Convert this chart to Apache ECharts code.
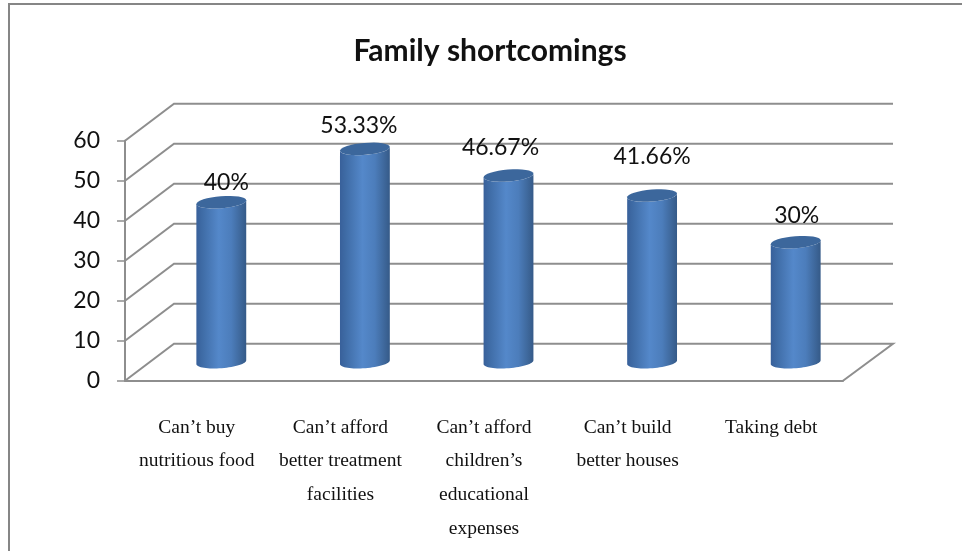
<!DOCTYPE html>
<html>
<head>
<meta charset="utf-8">
<style>html,body{margin:0;padding:0;background:#fff}#chart{width:962px;height:551px}</style>
<script src="https://cdn.jsdelivr.net/npm/echarts@6/dist/echarts.min.js"></script>
</head>
<body>
<div id="chart"></div>
<script>
const chartTitle = 'Family shortcomings';
const categories = [
  'Can’t buy\nnutritious food',
  'Can’t afford\nbetter treatment\nfacilities',
  'Can’t afford\nchildren’s\neducational\nexpenses',
  'Can’t build\nbetter houses',
  'Taking debt'
];
const shortcomingValues = [40, 53.33, 46.67, 41.66, 30];
const yTicks = [0, 10, 20, 30, 40, 50, 60];

// Oblique projection of the 3D box: how far the back wall sits from the front plane.
const DEPTH_X = 49, DEPTH_Y = 37;
const RADIUS_X = 25, RADIUS_Y = 6, TILT = -4.5 * Math.PI / 180;
// Per-label nudges relative to the cylinder top.
const labelNudges = [[5, -19.5], [-6, -23.5], [-8, -27.5], [0, -39], [1, -26.5]];
const GRID_COLOR = '#8e8e8e';

function ellipsePoint(cx, cy, t) {
  const ex = RADIUS_X * Math.cos(t), ey = RADIUS_Y * Math.sin(t);
  return [cx + ex * Math.cos(TILT) - ey * Math.sin(TILT),
          cy + ex * Math.sin(TILT) + ey * Math.cos(TILT)];
}
function arc(cx, cy, from, to) {
  const pts = [];
  for (let i = 0; i <= 32; i++) pts.push(ellipsePoint(cx, cy, from + (to - from) * i / 32));
  return pts;
}

function renderWalls(params, api) {
  const v = api.value(0);
  const y = api.coord([0, v])[1];
  const x0 = params.coordSys.x, x1 = x0 + params.coordSys.width;
  const pts = [[x0, y], [x0 + DEPTH_X, y - DEPTH_Y], [x1 + DEPTH_X + 1, y - DEPTH_Y]];
  if (v === 0) pts.push([x1, y]);
  return {
    type: 'polyline',
    shape: { points: pts },
    style: { stroke: GRID_COLOR, lineWidth: 2, fill: null }
  };
}

function renderCylinder(params, api) {
  const i = api.value(0), v = api.value(1);
  const top = api.coord([i, v]), base = api.coord([i, 0]);
  const cx = top[0] + DEPTH_X / 2, topY = top[1] - DEPTH_Y / 2, baseY = base[1] - DEPTH_Y / 2;
  const nudge = labelNudges[i];
  const gradient = {
    type: 'linear', x: 0, y: 0, x2: 1, y2: 0,
    colorStops: [
      { offset: 0, color: '#38609a' },
      { offset: 0.12, color: '#3f6ca6' },
      { offset: 0.45, color: '#5488ca' },
      { offset: 0.7, color: '#4c7dbb' },
      { offset: 0.9, color: '#3d6699' },
      { offset: 1, color: '#355a88' }
    ]
  };
  return {
    type: 'group',
    children: [
      {
        type: 'polygon',
        shape: { points: arc(cx, baseY, Math.PI, 0).concat(arc(cx, topY, 0, Math.PI)) },
        style: { fill: gradient }
      },
      {
        type: 'polygon',
        shape: { points: arc(cx, topY, 0, Math.PI * 2) },
        style: { fill: '#3c679c' }
      },
      {
        type: 'text',
        style: {
          x: cx + nudge[0], y: topY + nudge[1],
          text: v + '%', align: 'center', verticalAlign: 'middle',
          font: '23px Lato, "Open Sans", sans-serif', fill: '#111'
        }
      }
    ]
  };
}

const chart = echarts.init(document.getElementById('chart'), null, { renderer: 'canvas' });
chart.setOption({
  animation: false,
  backgroundColor: '#fff',
  title: {
    text: chartTitle, left: 485, top: 31, textAlign: 'center',
    textStyle: { fontFamily: 'Lato, "Open Sans", sans-serif', fontWeight: 'bold', fontSize: 30, color: '#111' }
  },
  graphic: [{
    type: 'polyline', silent: true,
    shape: { points: [[9, 560], [9, 4], [970, 4]] },
    style: { stroke: '#868686', lineWidth: 2, fill: null }
  }],
  grid: { left: 125, top: 140.7, width: 718, height: 240 },
  xAxis: {
    type: 'category', data: categories,
    axisLine: { lineStyle: { color: GRID_COLOR, width: 2 } },
    axisTick: { length: 8, lineStyle: { color: GRID_COLOR, width: 1.5 } },
    axisLabel: {
      margin: 30, interval: 0, lineHeight: 33.7, color: '#111',
      fontFamily: '"Liberation Serif", serif', fontSize: 19.5
    }
  },
  yAxis: {
    type: 'value', min: 0, max: 60, interval: 10,
    splitLine: { show: false },
    axisLine: { show: true, lineStyle: { color: GRID_COLOR, width: 2 } },
    axisTick: { show: true, length: 8, lineStyle: { color: GRID_COLOR, width: 1.5 } },
    axisLabel: { margin: 25, lineHeight: 30, padding: [7, 0, 0, 0], color: '#111', fontFamily: 'Lato, "Open Sans", sans-serif', fontSize: 23 }
  },
  series: [
    {
      type: 'custom', renderItem: renderWalls, silent: true, z: 1,
      data: yTicks.map(v => [v]), encode: { y: 0 }
    },
    {
      type: 'custom', renderItem: renderCylinder, silent: true, z: 3,
      data: shortcomingValues.map((v, i) => [i, v]), encode: { x: 0, y: 1 }
    }
  ]
});
</script>
</body>
</html>
